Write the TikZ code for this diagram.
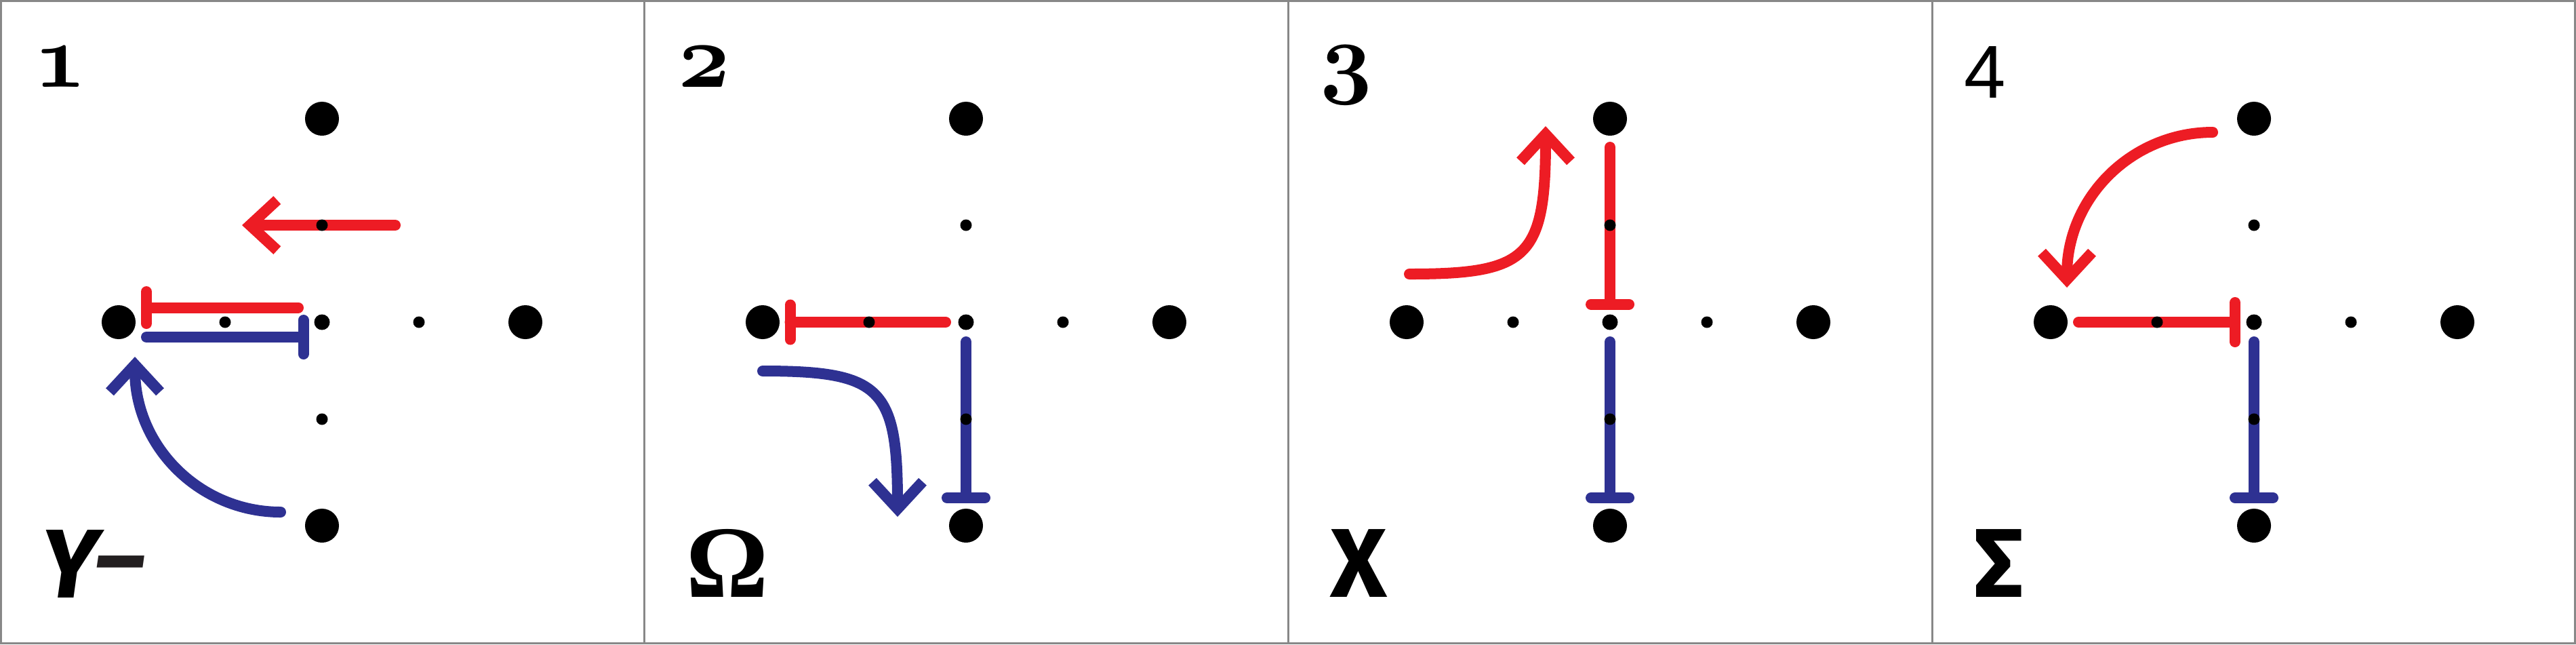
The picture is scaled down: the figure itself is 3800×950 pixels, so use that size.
\documentclass[tikz,border=0pt]{standalone}
\usepackage{fontspec}
\usetikzlibrary{arrows.meta}
\DeclareFontShape{OML}{cmm}{b}{it}{<-> cmmib10}{}
\newfontfamily\labelsans{Fira Sans}
\newfontfamily\omegafont{Liberation Serif}
\newfontfamily\numsans{Liberation Sans}
\newcommand\osfnum[1]{{\fontencoding{OML}\fontfamily{cmm}\fontseries{b}\fontshape{it}\fontsize{38}{40}\selectfont #1}}
\definecolor{myred}{HTML}{ED1C24}
\definecolor{myblue}{HTML}{2E3192}
\definecolor{framegray}{HTML}{888888}
\definecolor{dashgray}{HTML}{231F20}
\begin{document}
\begin{tikzpicture}[x=0.01cm,y=-0.01cm,
  redl/.style={draw=myred, line width=0.16cm, line cap=round},
  bluel/.style={draw=myblue, line width=0.16cm, line cap=round},
  barb/.style={-{Straight Barb[length=0.4cm,width=0.74cm]}},
  halo/.style={preaction={draw=white, line width=0.2cm}},
  bigdot/.style={circle, fill=black, inner sep=0pt, minimum size=0.5cm},
  middot/.style={circle, fill=black, inner sep=0pt, minimum size=0.23cm},
  smalldot/.style={circle, fill=black, inner sep=0pt, minimum size=0.17cm},
  numlabel/.style={anchor=north west, inner sep=0pt},
  symlabel/.style={anchor=base west, inner sep=0pt, font=\labelsans\bfseries\fontsize{41}{44}\selectfont},
  frameline/.style={draw=framegray, line width=0.03cm}
]
\useasboundingbox (0,0) rectangle (3800,950);
% frames
\draw[frameline] (1.5,1.5) rectangle (3798.5,948.5);
\foreach \xx in {950,1900,2850} {
  \coordinate (ftop\xx) at (\xx,0);
  \coordinate (fbot\xx) at (\xx,950);
  \draw[frameline] (ftop\xx) -- (fbot\xx);
}

% ---------- Panel 1 ----------
\coordinate (r1a) at (583,332);
\coordinate (r1b) at (357,332);
\draw[redl, barb] (r1a) -- (r1b);
\coordinate (t1c) at (216,497);
\coordinate (t1d) at (447.5,497);
\draw[bluel] (t1c) -- (t1d) ++(0,-25) -- ++(0,50);
\coordinate (t1a) at (440,453.5);
\coordinate (t1b) at (216,453.5);
\draw[redl, halo] (t1a) -- (t1b) ++(0,-23.5) -- ++(0,47);
\coordinate (b1a) at (414,755);
\coordinate (b1b) at (199,526);
\draw[bluel, barb] (b1a) .. controls (296,755) and (199,660) .. (b1b);

% ---------- Panel 2 ----------
\coordinate (t2a) at (1395,475);
\coordinate (t2b) at (1165.5,475);
\draw[redl] (t2a) -- (t2b) ++(0,-25.5) -- ++(0,51);
\coordinate (t2c) at (1425,504);
\coordinate (t2d) at (1425,734);
\draw[bluel] (t2c) -- (t2d) ++(-28,0) -- ++(56,0);
\coordinate (b2a) at (1125,547);
\coordinate (b2b) at (1324,762);
\draw[bluel, barb] (b2a) .. controls (1300,547) and (1324,572) .. (b2b);

% ---------- Panel 3 ----------
\coordinate (t3a) at (2375,217);
\coordinate (t3b) at (2375,448.5);
\draw[redl] (t3a) -- (t3b) ++(-28,0) -- ++(56,0);
\coordinate (t3c) at (2375,504);
\coordinate (t3d) at (2375,734);
\draw[bluel] (t3c) -- (t3d) ++(-28,0) -- ++(56,0);
\coordinate (r3a) at (2079,404);
\coordinate (r3b) at (2280,186);
\draw[redl, barb] (r3a) .. controls (2254,404) and (2280,380) .. (r3b);

% ---------- Panel 4 ----------
\coordinate (r4a) at (3264,195);
\coordinate (r4b) at (3049,424);
\draw[redl, barb] (r4a) .. controls (3146,195) and (3049,290) .. (r4b);
\coordinate (t4a) at (3066,475);
\coordinate (t4b) at (3297,475);
\draw[redl] (t4a) -- (t4b) ++(0,-29) -- ++(0,58);
\coordinate (t4c) at (3325,504);
\coordinate (t4d) at (3325,734);
\draw[bluel] (t4c) -- (t4d) ++(-28,0) -- ++(56,0);

% ---------- dots ----------
\foreach \p/\ox in {1/0,2/950,3/1900,4/2850} {
  \node[bigdot] (top\p) at (\ox+475,175) {};
  \node[bigdot] (left\p) at (\ox+175,475) {};
  \node[bigdot] (right\p) at (\ox+775,475) {};
  \node[bigdot] (bottom\p) at (\ox+475,775) {};
  \node[middot] (center\p) at (\ox+475,475) {};
  \node[smalldot] (sl\p) at (\ox+332,475) {};
  \node[smalldot] (sr\p) at (\ox+618,475) {};
  \node[smalldot] (su\p) at (\ox+475,332) {};
  \node[smalldot] (sd\p) at (\ox+475,618) {};
}

% ---------- labels ----------
\node[numlabel] (n1) at (50,68) {\osfnum{1}};
\node[numlabel] (n2) at (1000,68) {\osfnum{2}};
\node[numlabel] (n3) at (1947,67) {\osfnum{3}};
\node[anchor=north west, inner sep=0pt] (n4) at (2897,68) {\numsans\fontsize{31.4}{33}\selectfont 4};

\node[symlabel] (l1) at (60,881) {\itshape Y\kern-0.03em\raisebox{0.08cm}{\color{dashgray}–}};
\node[anchor=base west, inner sep=0pt, font=\omegafont\bfseries\fontsize{43}{46}\selectfont] (l2) at (1012,880) {Ω};
\node[symlabel] (l3) at (1962,880) {X};
\node[symlabel] (l4) at (2912,880) {Σ};
\end{tikzpicture}
\end{document}
